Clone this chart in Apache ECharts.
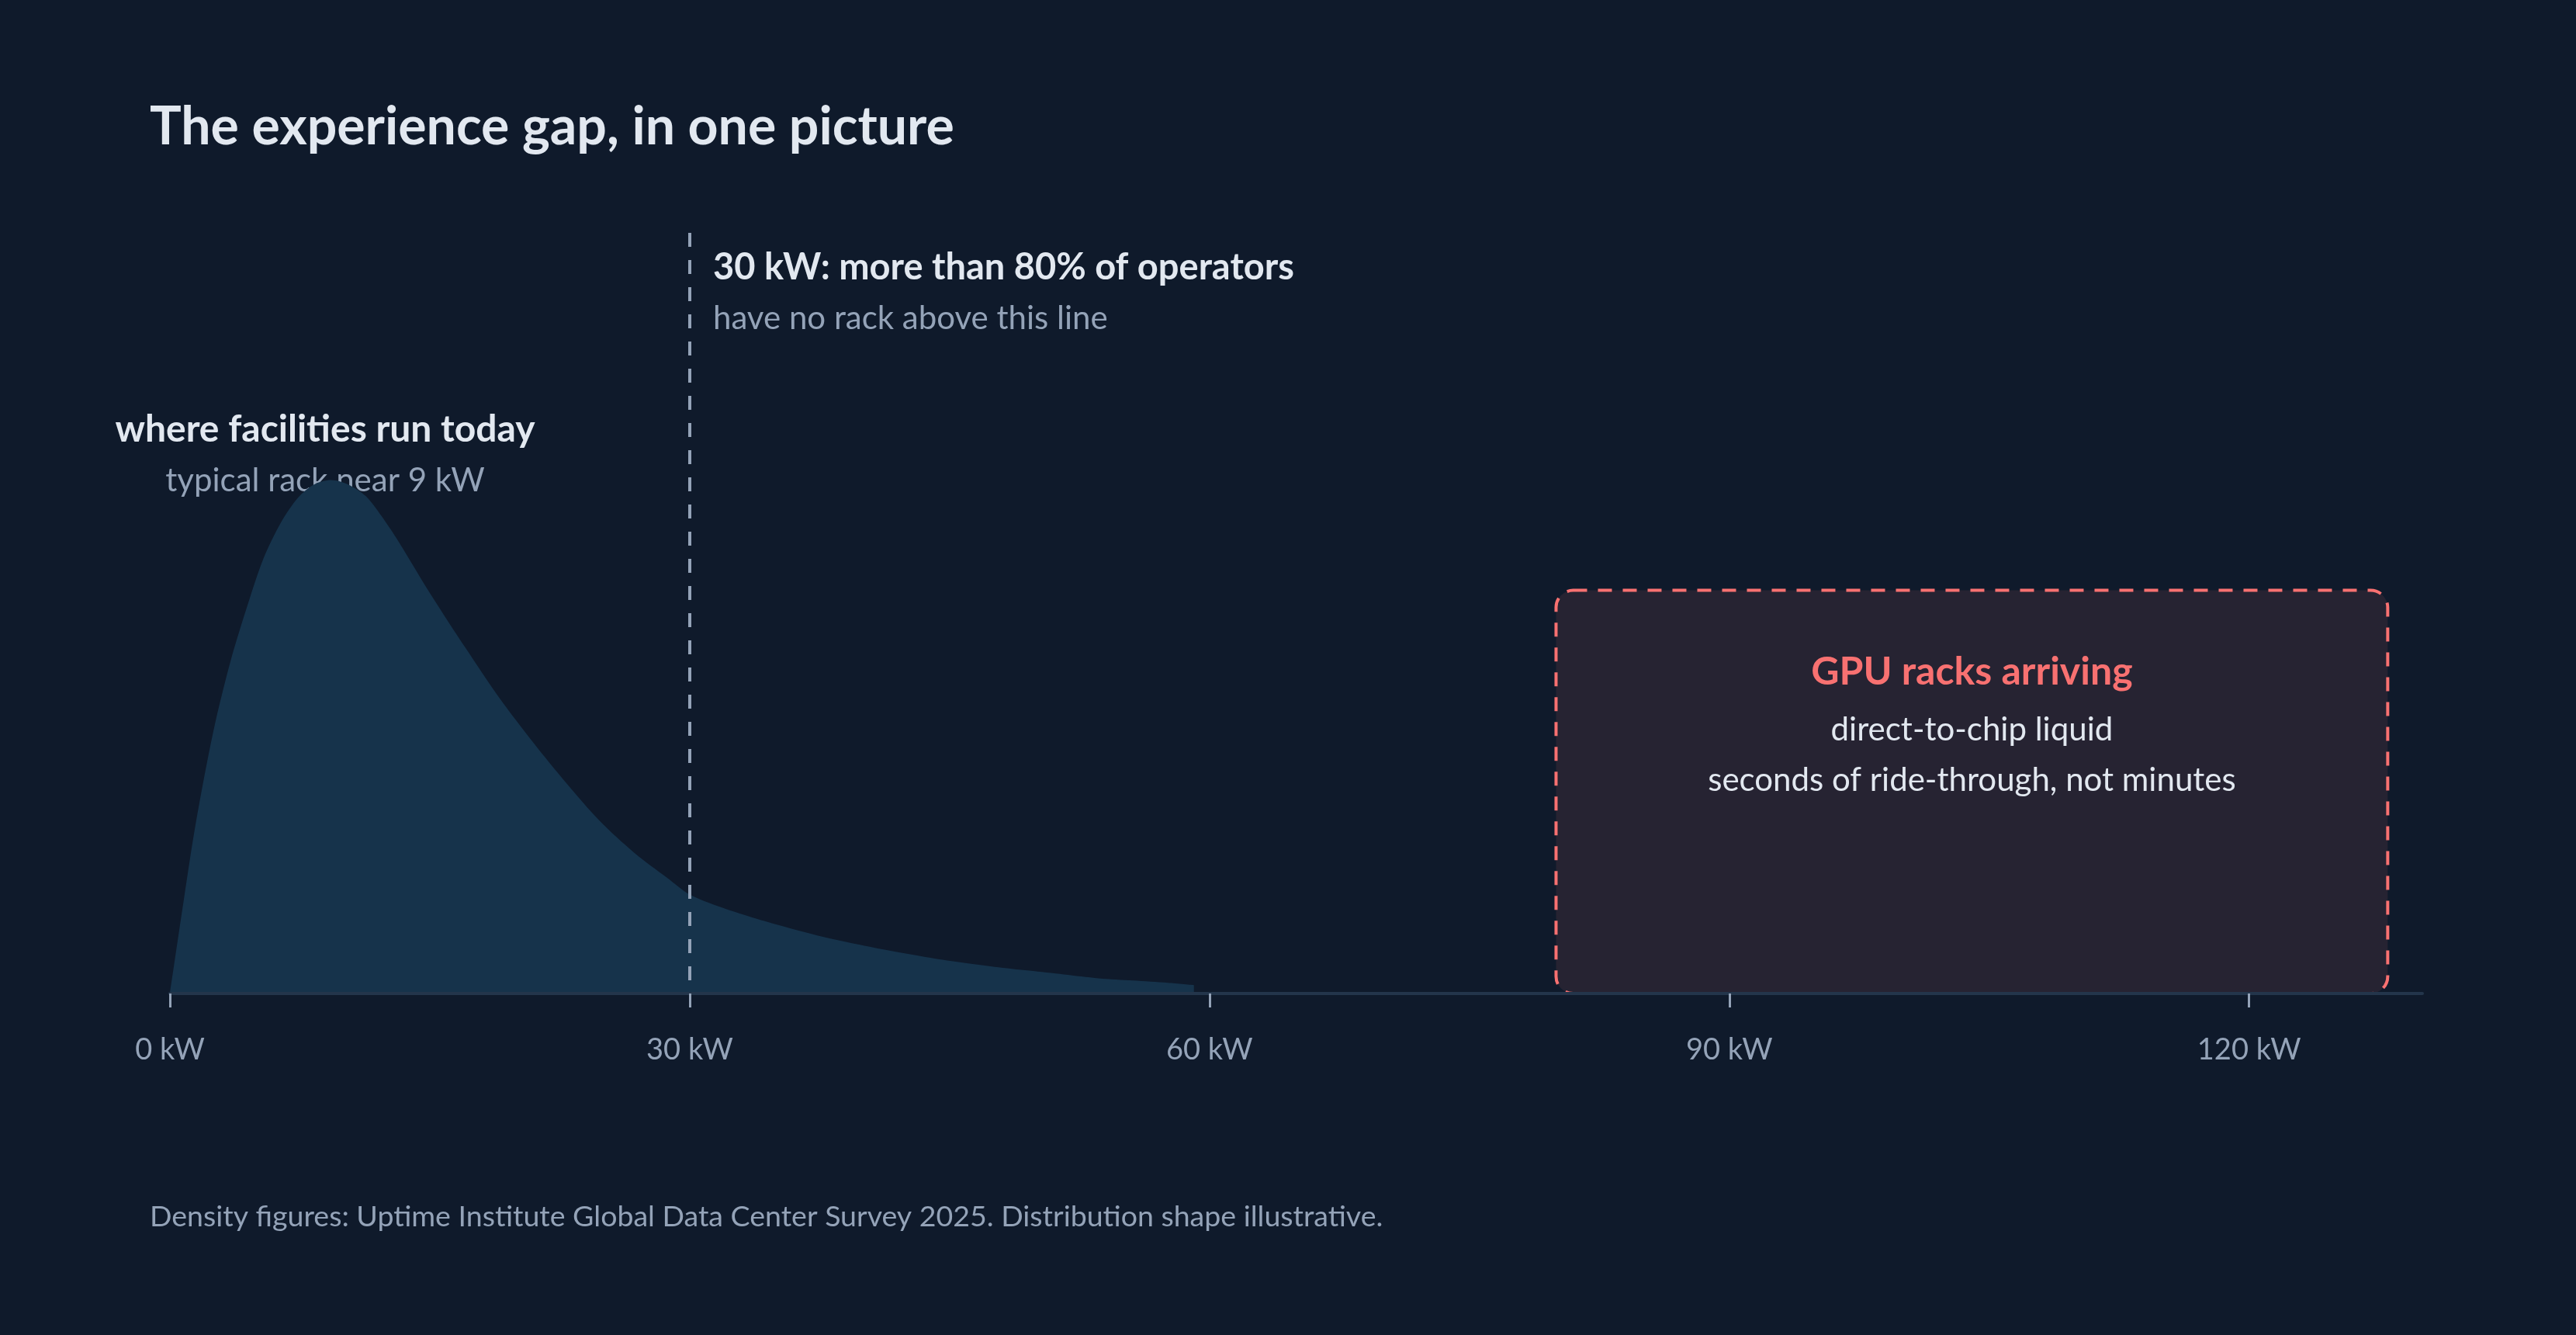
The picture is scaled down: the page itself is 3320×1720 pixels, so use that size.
<!DOCTYPE html>
<html>
<head>
<meta charset="utf-8">
<title>The experience gap, in one picture</title>
<script src="https://cdn.jsdelivr.net/npm/echarts@6/dist/echarts.min.js"></script>
<style>
  html, body { margin: 0; padding: 0; background: #0f1a2b; }
  #chart { width: 3320px; height: 1720px; }
</style>
</head>
<body>
<div id="chart"></div>
<script>
// rack density (kW) and relative share of racks
const rackKw = [0, 0.8, 1.5, 2.5, 3.5, 4.5, 5.4, 6.4, 7.4, 8.3, 9.3, 10.3, 11.3, 12.2, 13.2, 15.1, 17.1, 19.0, 21.0, 22.9, 24.8, 26.8, 28.7, 30.0, 31.6, 33.6, 35.6, 37.6, 39.6, 41.6, 43.6, 45.6, 47.6, 49.6, 51.6, 53.6, 55.6, 57.6, 59.1];
const rackShare = [0, 12.3, 22.5, 34.4, 43.7, 51.2, 57.2, 61.9, 65.2, 66.9, 67.5, 66.9, 65.4, 62.8, 59.4, 52.3, 45.3, 38.9, 32.9, 27.6, 22.7, 18.5, 15.2, 13.0, 11.5, 10.0, 8.7, 7.5, 6.5, 5.6, 4.8, 4.1, 3.5, 3.0, 2.5, 2.0, 1.7, 1.4, 1.1];
const tickKw = [0, 30, 60, 90, 120];
const thresholdKw = 30;
// GPU zone: from kW, to kW, height on the share scale
const gpuZone = [80, 128, 53];

const FONT = 'Lato, "Noto Sans", sans-serif';
const LIGHT = '#e2e8f0';
const MUTED = '#94a3b8';
const CORAL = '#f87171';

const chart = echarts.init(document.getElementById('chart'));

function txt(x, y, text, size, weight, color, align) {
  return {
    type: 'text', x: x, y: y, silent: true,
    style: {
      text: text, fill: color, font: weight + ' ' + size + 'px ' + FONT,
      align: align || 'left', verticalAlign: 'middle'
    }
  };
}

const option = {
  backgroundColor: '#0f1a2b',
  animation: false,
  grid: { left: 219, right: 198, top: 300, bottom: 440 },
  xAxis: {
    type: 'value', min: 0, max: 130, interval: 30, z: 5,
    splitLine: { show: false },
    axisLine: { show: true, lineStyle: { color: '#23354b', width: 4 } },
    axisTick: { show: true, length: 18, customValues: tickKw, lineStyle: { color: MUTED, width: 3 } },
    axisLabel: {
      customValues: tickKw, margin: 54, color: MUTED, fontSize: 38, fontFamily: FONT,
      formatter: v => v + ' kW'
    }
  },
  yAxis: { type: 'value', min: 0, max: 100, show: false },
  graphic: [
    txt(193, 164, 'The experience gap, in one picture', 68, 'bold', LIGHT),
    txt(419, 554, 'where facilities run today', 48, 'bold', LIGHT, 'center'),
    txt(419, 619, 'typical rack near 9 kW', 42, 'normal', MUTED, 'center'),
    txt(919, 345, '30 kW: more than 80% of operators', 47, 'bold', LIGHT),
    txt(919, 410, 'have no rack above this line', 42, 'normal', MUTED),
    txt(193, 1568, 'Density figures: Uptime Institute Global Data Center Survey 2025. Distribution shape illustrative.', 37.5, 'normal', MUTED)
  ],
  series: [
    {
      type: 'line',
      data: rackKw.map((k, i) => [k, rackShare[i]]),
      smooth: 0.3,
      showSymbol: false,
      silent: true,
      lineStyle: { width: 0 },
      areaStyle: { color: '#16334b', opacity: 1 },
      markLine: {
        silent: true,
        symbol: 'none',
        label: { show: false },
        lineStyle: { color: MUTED, width: 4, type: [18, 17] },
        data: [[{ coord: [thresholdKw, 100] }, { coord: [thresholdKw, 0] }]]
      }
    },
    {
      type: 'custom',
      silent: true,
      data: [gpuZone],
      renderItem: function (params, api) {
        const tl = api.coord([api.value(0), api.value(2)]);
        const br = api.coord([api.value(1), 0]);
        const w = br[0] - tl[0];
        const h = br[1] - tl[1];
        const cx = tl[0] + w / 2;
        return {
          type: 'group',
          children: [
            {
              type: 'rect',
              shape: { x: tl[0], y: tl[1], width: w, height: h, r: 22 },
              style: { fill: 'rgba(248,113,113,0.1)', stroke: CORAL, lineWidth: 4, lineDash: [18, 14] }
            },
            txt(cx, tl[1] + 105, 'GPU racks arriving', 50, 'bold', CORAL, 'center'),
            txt(cx, tl[1] + 180, 'direct-to-chip liquid', 42, 'normal', LIGHT, 'center'),
            txt(cx, tl[1] + 245, 'seconds of ride-through, not minutes', 42, 'normal', LIGHT, 'center')
          ]
        };
      }
    }
  ]
};

chart.setOption(option);
</script>
</body>
</html>
